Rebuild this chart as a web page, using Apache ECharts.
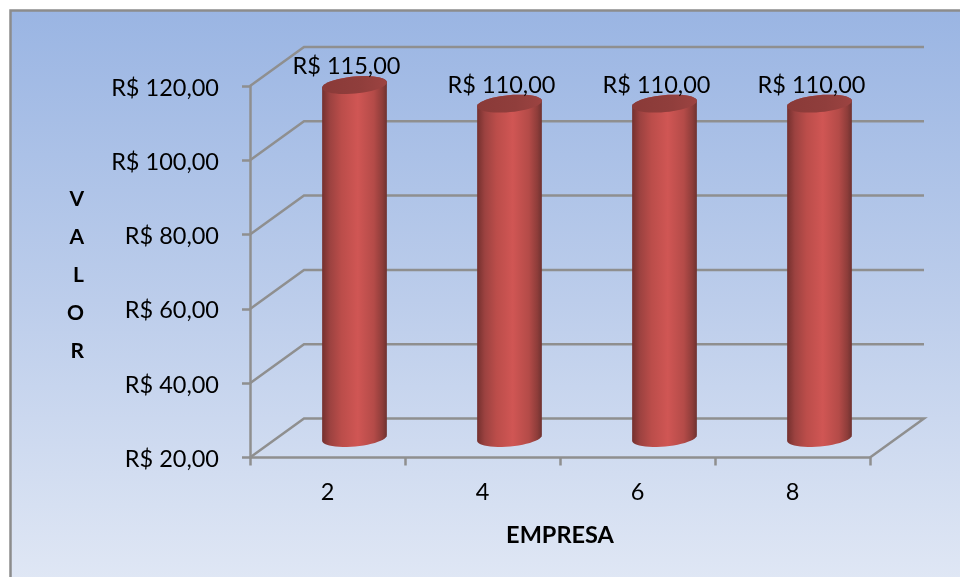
<!DOCTYPE html>
<html><head><meta charset="utf-8">
<style>html,body{margin:0;padding:0;background:#fff}#c{width:960px;height:577px}</style>
<script src="https://cdn.jsdelivr.net/npm/echarts@6/dist/echarts.min.js"></script>
</head><body><div id="c"></div>
<script>
const categories = ['2','4','6','8'];
const values = [115,110,110,110];
const gridValues = [20,40,60,80,100,120];
const yTitleLetters = ['V','A','L','O','R'];
const depthX = 54, depthY = -39;
const grey = '#8f8f8f';
const font = 'Lato';
const fmt = v => 'R$ ' + v.toFixed(2).replace('.', ',');
const chart = echarts.init(document.getElementById('c'));

function ellipsePts(cx, cy, a, b, r, t0, t1, n){
  const pts = [];
  for(let i=0;i<=n;i++){
    const t = t0 + (t1-t0)*i/n;
    pts.push([cx + a*Math.cos(t)*Math.cos(r) - b*Math.sin(t)*Math.sin(r),
              cy + a*Math.cos(t)*Math.sin(r) + b*Math.sin(t)*Math.cos(r)]);
  }
  return pts;
}
const bodyGrad = () => new echarts.graphic.LinearGradient(0,0,1,0,[
  {offset:0,color:'#74302e'},{offset:.12,color:'#9c4240'},{offset:.3,color:'#bb4d4a'},
  {offset:.55,color:'#d05654'},{offset:.8,color:'#b44b48'},{offset:.93,color:'#8e3d3a'},{offset:1,color:'#6e3230'}]);
const topGrad = () => new echarts.graphic.LinearGradient(0,0,1,0,[
  {offset:0,color:'#8a3a38'},{offset:.6,color:'#903e3c'},{offset:1,color:'#9c4341'}]);

chart.setOption({
  animation:false,
  backgroundColor:'#fff',
  graphic:[{type:'rect',z:-10,silent:true,
    shape:{x:10.5,y:10.5,width:960,height:580},
    style:{stroke:'#8c8c8c',lineWidth:2.5,
      fill:new echarts.graphic.LinearGradient(0,0,0,1,[{offset:0,color:'#9ab5e3'},{offset:.5,color:'#bccdeb'},{offset:1,color:'#e1e8f5'}])}}],
  grid:{left:250,right:90,top:86,bottom:119.5},
  xAxis:{type:'category',data:categories,
    name:'EMPRESA',nameLocation:'middle',nameGap:66,
    nameTextStyle:{fontFamily:font,fontSize:23.5,fontWeight:'bold',color:'#000'},
    axisLine:{show:true,lineStyle:{color:grey,width:2.5}},
    axisTick:{show:true,length:8,alignWithLabel:false,lineStyle:{color:grey,width:2.5}},
    axisLabel:{fontFamily:font,fontSize:23.5,color:'#000',margin:23}},
  yAxis:{type:'value',min:20,max:120,interval:20,
    name:'{b| }\n'+yTitleLetters.map(c=>'{a|'+c+'}').join('\n'),
    nameLocation:'middle',nameGap:166,nameRotate:0,
    nameTextStyle:{color:'#000',rich:{
      a:{fontFamily:font,fontSize:21,fontWeight:'bold',color:'#000',lineHeight:38},
      b:{fontSize:6,lineHeight:7}}},
    splitLine:{show:false},
    axisLine:{show:true,lineStyle:{color:grey,width:2.5}},
    axisTick:{show:true,length:8,lineStyle:{color:grey,width:2.5}},
    axisLabel:{color:'#000',margin:31,formatter:v=>'{a|'+fmt(v)+'}',
      rich:{a:{fontFamily:font,fontSize:23.5,color:'#000',padding:[4,0,0,0]}}}},
  series:[
    {type:'custom',z:1,silent:true,
     data:gridValues.map(v=>[0,v]),
     renderItem(params,api){
       const cs = params.coordSys, y = api.coord([0,api.value(1)])[1];
       const x0 = cs.x, x1 = cs.x+cs.width;
       const pts = [[x0,y],[x0+depthX,y+depthY],[x1+depthX,y+depthY]];
       if(api.value(1)===gridValues[0]) pts.push([x1,y]);
       return {type:'polyline',shape:{points:pts},style:{stroke:grey,lineWidth:2.5,fill:null}};
     }},
    {type:'custom',z:3,silent:true,
     data:values.map((v,i)=>[i,v]),
     renderItem(params,api){
       const i = api.value(0), v = api.value(1);
       const top = api.coord([i,v]), bot = api.coord([i,gridValues[0]]);
       const cx = top[0]+depthX/2, ty = top[1]+depthY/2, by = bot[1]+depthY/2;
       const a = 32.5, b = 8.5, r = -5.3*Math.PI/180;
       const body = ellipsePts(cx,by,a,b,r,Math.PI,0,24).concat(ellipsePts(cx,ty,a,b,r,0,-Math.PI,24));
       return {type:'group',children:[
         {type:'polygon',shape:{points:body},style:{fill:bodyGrad()}},
         {type:'polygon',shape:{points:ellipsePts(cx,ty,a,b,r,0,2*Math.PI,48)},style:{fill:topGrad()}},
         {type:'text',z2:10,style:{text:fmt(v),x:cx-8,y:ty-18.5,align:'center',verticalAlign:'middle',
           fontFamily:font,fontSize:23.5,fill:'#000'}}
       ]};
     }}
  ]
});
</script></body></html>
